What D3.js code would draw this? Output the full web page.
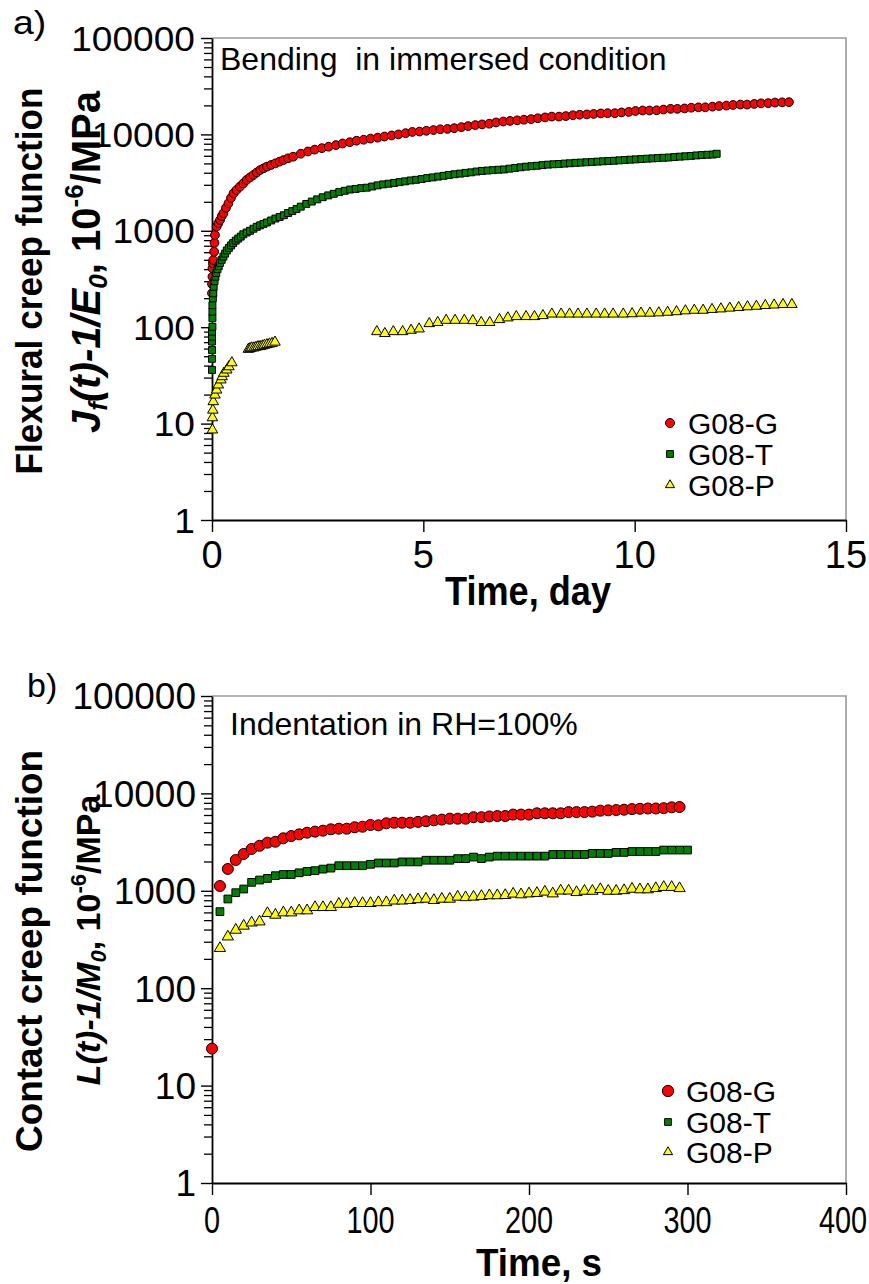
<!DOCTYPE html>
<html><head><meta charset="utf-8">
<script src="https://cdn.jsdelivr.net/npm/d3@7"></script>
<style>
body{margin:0;background:#fff}
svg{display:block}
text{font-family:"Liberation Sans",Arial,Helvetica,sans-serif;fill:#000}
</style></head><body>
<svg id="c" width="869" height="1284"></svg>
<script>
// ---------- DATA ----------
const seriesNames = ["G08-G", "G08-T", "G08-P"];
const seriesColors = ["#ff0000", "#008000", "#ffff00"];
const yTickValues = [1, 10, 100, 1000, 10000, 100000];
const bendXTicks = [0, 5, 10, 15];
const indXTicks = [0, 100, 200, 300, 400];

// a) Bending in immersed condition: [time (day), J(t)-1/E0]
const bendG = [[0.00,225],[0.00,280],[0.01,334],[0.01,408],[0.02,460],[0.03,498],[0.05,607],[0.06,750],[0.07,904],[0.11,1104],[0.15,1200],[0.19,1295],[0.23,1420],[0.27,1520],[0.33,1730],[0.39,1930],[0.45,2200],[0.51,2450],[0.58,2650],[0.66,2870],[0.74,3100],[0.82,3370],[0.90,3580],[0.98,3790],[1.06,4030],[1.14,4270],[1.22,4450],[1.30,4630],[1.40,4820],[1.50,5010],[1.60,5220],[1.69,5420],[1.80,5650],[1.92,5870],
[2.10,6300],[2.27,6650],[2.43,6950],[2.60,7200],[2.76,7450],[2.93,7750],[3.09,8050],[3.26,8300],[3.42,8600],[3.59,8800],[3.75,9050],[3.92,9250],[4.08,9500],[4.25,9750],[4.41,10000],[4.58,10300],[4.74,10600],[4.91,10700],[5.07,10900],[5.24,11100],[5.40,11300],[5.57,11400],[5.73,11600],[5.90,11900],[6.06,12200],[6.23,12500],[6.39,12700],[6.56,12900],[6.72,13300],[6.89,13600],[7.05,13800],[7.22,14000],[7.38,14200],[7.55,14400],[7.71,14700],[7.88,15000],[8.04,15300],[8.21,15300],[8.37,15500],[8.54,15800],[8.70,16000],[8.87,16100],[9.03,16300],[9.20,16500],[9.36,16600],[9.53,16600],[9.69,16900],[9.86,17100],[10.02,17500],[10.19,17700],[10.35,17700],[10.52,17800],[10.68,18100],[10.85,18400],[11.01,18400],[11.18,18600],[11.34,18900],[11.51,19100],[11.67,19100],[11.84,19400],[12.00,19700],[12.17,19900],[12.33,20200],[12.50,20400],[12.66,20400],[12.83,20700],[12.99,21000],[13.16,21100],[13.32,21400],[13.49,21500],[13.65,21600]];

const bendT = [[0.00,36],[0.00,47],[0.00,58],[0.00,71],[0.00,80],[0.00,90],[0.01,101],[0.01,124],[0.01,145],[0.01,169],[0.02,200],[0.03,225],[0.04,263],[0.06,300],[0.08,334],[0.10,365],[0.13,400],[0.16,430],[0.19,465],[0.23,500],[0.27,540],[0.31,580],[0.35,625],[0.40,665],[0.45,705],[0.50,745],[0.56,790],[0.62,830],[0.68,870],[0.74,920],[0.82,960],[0.90,1000],[0.98,1050],[1.06,1100],[1.14,1140],[1.22,1180],[1.30,1220],[1.40,1280],[1.50,1340],[1.60,1390],[1.70,1450],[1.80,1530],[1.90,1600],[2.00,1680],
[2.10,1780],[2.23,1900],[2.36,2010],[2.49,2120],[2.62,2230],[2.75,2330],[2.88,2420],[3.01,2520],[3.14,2600],[3.27,2680],[3.40,2720],[3.53,2770],[3.66,2800],[3.79,2880],[3.92,2960],[4.05,3030],[4.18,3080],[4.31,3140],[4.44,3200],[4.57,3260],[4.70,3330],[4.83,3380],[4.96,3440],[5.09,3520],[5.22,3580],[5.35,3650],[5.48,3720],[5.61,3800],[5.74,3860],[5.87,3920],[6.00,3990],[6.13,4040],[6.26,4120],[6.39,4180],[6.52,4220],[6.65,4260],[6.78,4300],[6.91,4330],[7.04,4410],[7.17,4480],[7.30,4560],[7.43,4630],[7.56,4680],[7.69,4730],[7.82,4800],[7.95,4860],[8.08,4900],[8.21,4930],[8.34,4980],[8.47,5020],[8.60,5070],[8.73,5100],[8.86,5140],[8.99,5170],[9.12,5220],[9.25,5260],[9.38,5300],[9.51,5330],[9.64,5380],[9.77,5430],[9.90,5470],[10.03,5510],[10.16,5560],[10.29,5600],[10.42,5640],[10.55,5680],[10.68,5720],[10.81,5760],[10.94,5820],[11.07,5880],[11.20,5930],[11.33,5980],[11.46,6050],[11.59,6100],[11.72,6150],[11.85,6180],[11.94,6300]];

const bendP = [[0.01,8.6],[0.01,11.5],[0.02,13.8],[0.03,16.9],[0.07,19.8],[0.11,22.3],[0.15,25.2],[0.21,28.4],[0.24,30.7],[0.28,33.3],[0.35,36],[0.40,38.9],[0.47,42.8],
[0.86,59],[0.90,60],[0.94,61],[0.99,61],[1.04,62],[1.09,63],[1.14,63],[1.19,64],[1.24,65],[1.30,66],[1.36,67],[1.42,68],[1.49,70],
[3.90,90],[4.09,86],[4.29,90],[4.51,90],[4.71,93],[4.90,96],[5.14,109],[5.34,112],[5.54,118],[5.75,118],[5.97,118],[6.17,117],[6.37,112],[6.57,112],[6.80,120],[7.00,125],[7.20,129],[7.43,129],[7.63,129],[7.83,132],[8.04,137],[8.26,137],[8.46,137],[8.66,137],[8.87,137],[9.09,137],[9.29,137],[9.49,137],[9.73,137],[9.94,138],[10.15,140],[10.36,140],[10.57,141],[10.78,143],[10.99,145],[11.20,148],[11.41,150],[11.62,150],[11.83,153],[12.04,155],[12.25,158],[12.46,160],[12.67,163],[12.88,165],[13.09,168],[13.30,170],[13.51,172],[13.72,172]];

// b) Indentation in RH=100%: [time (s), L(t)-1/M0]
const indG = [[0,24],[5,1120],[10,1675],[15,2070],[20,2390],[25,2690],[30,2900],[35,3120],[40,3190],[45,3460],[50,3650],[55,3800],[60,3950],[65,4050],[70,4140],[75,4280],[80,4340],[85,4340],[90,4490],[95,4550],[100,4740],[105,4700],[110,4930],[115,5000],[120,5000],[125,5000],[130,5100],[135,5180],[140,5300],[145,5380],[150,5500],[155,5500],[160,5500],[165,5700],[170,5700],[175,5800],[180,5860],[185,5860],[190,6060],[195,6060],[200,6060],[205,6250],[210,6250],[215,6250],[220,6250],[225,6430],[230,6430],[235,6430],[240,6500],[245,6650],[250,6700],[255,6750],[260,6800],[265,6900],[270,6950],[275,7000],[280,7000],[285,7050],[290,7200],[295,7250]];

const indT = [[5,611],[10,824],[15,956],[20,1043],[25,1222],[30,1290],[35,1340],[40,1430],[45,1470],[50,1470],[55,1530],[60,1580],[65,1610],[70,1670],[75,1710],[80,1810],[85,1810],[90,1810],[95,1810],[100,1870],[105,1930],[110,1930],[115,1930],[120,1980],[125,1980],[130,1980],[135,2060],[140,2060],[145,2060],[150,2060],[155,2140],[160,2140],[165,2220],[170,2140],[175,2220],[180,2270],[185,2270],[190,2270],[195,2270],[200,2270],[205,2270],[210,2270],[215,2360],[220,2360],[225,2360],[230,2360],[235,2360],[240,2420],[245,2420],[250,2420],[255,2480],[260,2480],[265,2530],[270,2530],[275,2530],[280,2530],[285,2620],[290,2620],[295,2620],[300,2620]];

const indP = [[5,257],[10,338],[15,396],[20,436],[25,470],[30,482],[35,588],[40,565],[45,597],[50,597],[55,627],[60,627],[65,677],[70,677],[75,677],[80,731],[85,731],[90,745],[95,745],[100,745],[105,760],[110,760],[115,790],[120,790],[125,800],[130,815],[135,825],[140,800],[145,825],[150,825],[155,866],[160,855],[165,866],[170,880],[175,895],[180,895],[185,900],[190,930],[195,915],[200,935],[205,945],[210,975],[215,935],[220,1000],[225,1000],[230,965],[235,995],[240,995],[245,1035],[250,995],[255,995],[260,1010],[265,1045],[270,1030],[275,1030],[280,1060],[285,1090],[290,1090],[295,1060]];

// ---------- DRAW ----------
const svg = d3.select("#c");
const symTypes = [d3.symbolCircle, d3.symbolSquare, d3.symbolTriangle];

function drawPanel(cfg) {
  const g = svg.append("g");
  const x = d3.scaleLinear().domain(cfg.xDomain).range([212, 846]);
  const y = d3.scaleLog().domain([1, 100000]).range(cfg.yRange);
  const [yBot, yTop] = cfg.yRange;

  g.append("path").attr("d", `M212,${yTop}H846V${yBot}`).attr("fill", "none")
    .attr("stroke", "#9a9a9a").attr("stroke-width", 1.6);

  const minor = [];
  for (let d = 1; d < 100000; d *= 10) for (let k = 2; k <= 9; k++) minor.push(d * k);
  g.append("g").attr("transform", "translate(212,0)")
    .call(d3.axisLeft(y).tickValues(minor).tickSize(8).tickSizeOuter(0).tickFormat(""))
    .call(a => a.select(".domain").remove())
    .selectAll("line").attr("stroke", "#000").attr("stroke-width", 1.3);
  g.append("g").attr("transform", "translate(212,0)")
    .call(d3.axisLeft(y).tickValues(yTickValues).tickSize(11).tickSizeOuter(0).tickFormat(""))
    .call(a => a.select(".domain").attr("stroke", "#000").attr("stroke-width", 1.8))
    .selectAll("line").attr("stroke", "#000").attr("stroke-width", 1.4);
  g.append("g").attr("transform", `translate(0,${yBot})`)
    .call(d3.axisBottom(x).tickValues(cfg.xTicks).tickSize(12).tickSizeOuter(0).tickFormat(""))
    .call(a => a.select(".domain").attr("stroke", "#000").attr("stroke-width", 1.8))
    .selectAll("line").attr("stroke", "#000").attr("stroke-width", 1.4);

  g.selectAll("text.yl").data(yTickValues).join("text").attr("class", "yl")
    .attr("text-anchor", "end").attr("font-size", cfg.yLabFs)
    .attr("transform", d => `translate(${cfg.yLabX},${y(d) + 0.36 * cfg.yLabFs}) scale(${cfg.yLabSx},1)`)
    .text(d => String(d));
  g.selectAll("text.xl").data(cfg.xTicks).join("text").attr("class", "xl")
    .attr("text-anchor", "middle").attr("font-size", cfg.xLabFs)
    .attr("transform", d => `translate(${Math.min(x(d), cfg.xLabMax)},${cfg.xLabY}) scale(${cfg.xLabSx},1)`)
    .text(d => String(d));

  g.append("text").attr("x", cfg.xTitle.x).attr("y", cfg.xTitle.y)
    .attr("text-anchor", "middle").attr("font-weight", "bold").attr("font-size", cfg.xTitle.fs)
    .attr("textLength", cfg.xTitle.len).attr("lengthAdjust", "spacingAndGlyphs")
    .text(cfg.xTitle.text);

  g.append("text").attr("transform", `translate(${cfg.yT1.x},${cfg.yT1.y}) rotate(-90)`)
    .attr("text-anchor", "middle").attr("font-weight", "bold").attr("font-size", cfg.yT1.fs)
    .attr("textLength", cfg.yT1.len).attr("lengthAdjust", "spacingAndGlyphs")
    .text(cfg.yT1.text);
  const t2 = g.append("text").attr("transform", `translate(${cfg.yT2.x},${cfg.yT2.y}) rotate(-90)`)
    .attr("text-anchor", "middle").attr("font-weight", "bold").attr("font-size", cfg.yT2.fs);
  const fs2 = cfg.yT2.fs, small = Math.round(fs2 * 0.65);
  cfg.yT2.parts.forEach(p => {
    const ts = t2.append("tspan").text(p.t);
    if (p.i) ts.attr("font-style", "italic");
    if (p.sub) ts.attr("font-size", small).attr("dy", fs2 * 0.18);
    if (p.sup) ts.attr("font-size", small).attr("dy", -fs2 * 0.42);
    if (p.dy) ts.attr("dy", p.dy * fs2);
  });

  g.append("text").attr("font-size", cfg.letter.fs)
    .attr("transform", `translate(${cfg.letter.x},${cfg.letter.y}) scale(${cfg.letter.sx},1)`)
    .text(cfg.letter.text);
  g.append("text").attr("x", cfg.note.x).attr("y", cfg.note.y).attr("font-size", cfg.note.fs)
    .style("white-space", "pre").text(cfg.note.text);

  cfg.series.forEach((data, i) => {
    const sym = d3.symbol().type(symTypes[i]).size(cfg.symSize[i]);
    g.append("g").selectAll("path").data(data).join("path")
      .attr("transform", d => `translate(${x(d[0])},${y(d[1])})`)
      .attr("d", sym).attr("fill", seriesColors[i])
      .attr("stroke", "#000").attr("stroke-width", 1);
  });

  seriesNames.forEach((name, i) => {
    const ry = cfg.legend.y[i];
    const sym = d3.symbol().type(symTypes[i]).size(cfg.legend.size[i]);
    g.append("path").attr("transform", `translate(${cfg.legend.mx},${ry})`)
      .attr("d", sym).attr("fill", seriesColors[i]).attr("stroke", "#000").attr("stroke-width", 1);
    g.append("text").attr("x", cfg.legend.tx).attr("y", ry + 0.36 * cfg.legend.fs)
      .attr("font-size", cfg.legend.fs).text(name);
  });
}

drawPanel({
  xDomain: [0, 15], yRange: [520, 38], xTicks: bendXTicks,
  yLabFs: 35, yLabSx: 1.06, yLabX: 195,
  xLabFs: 38, xLabSx: 1.0, xLabY: 568, xLabMax: 846,
  xTitle: {text: "Time, day", x: 528, y: 605, fs: 41, len: 166},
  yT1: {text: "Flexural creep function", x: 42, y: 281, fs: 37, len: 387},
  yT2: {x: 100, y: 262, fs: 40, parts: [
    {t: "J", i: true}, {t: "f", i: true, sub: true}, {t: "(t)-1/E", i: true, dy: -0.18},
    {t: "0", i: true, sub: true}, {t: ", 10", dy: -0.18}, {t: "-6", sup: true}, {t: "/MPa", dy: 0.42}]},
  letter: {text: "a)", x: 13, y: 34, fs: 34, sx: 1.1},
  note: {text: "Bending  in immersed condition", x: 220, y: 70, fs: 32},
  series: [bendG, bendT, bendP], symSize: [60, 48, 48],
  legend: {mx: 670, tx: 688, y: [423, 454, 485], fs: 30, size: [64, 46, 36]}
});

drawPanel({
  xDomain: [0, 400], yRange: [1183, 696], xTicks: indXTicks,
  yLabFs: 37, yLabSx: 1.0, yLabX: 196,
  xLabFs: 37, xLabSx: 0.78, xLabY: 1233, xLabMax: 843,
  xTitle: {text: "Time, s", x: 539, y: 1276, fs: 39, len: 126},
  yT1: {text: "Contact creep function", x: 42, y: 951, fs: 37, len: 402},
  yT2: {x: 100, y: 940, fs: 34, parts: [
    {t: "L(t)-1/M", i: true}, {t: "0", i: true, sub: true}, {t: ", 10", dy: -0.18},
    {t: "-6", sup: true}, {t: "/MPa", dy: 0.42}]},
  letter: {text: "b)", x: 27, y: 697, fs: 34, sx: 1.0},
  note: {text: "Indentation in RH=100%", x: 230, y: 735, fs: 32},
  series: [indG, indT, indP], symSize: [95, 60, 55],
  legend: {mx: 668, tx: 686, y: [1091, 1122, 1152], fs: 30, size: [100, 46, 36]}
});
</script>
</body></html>
